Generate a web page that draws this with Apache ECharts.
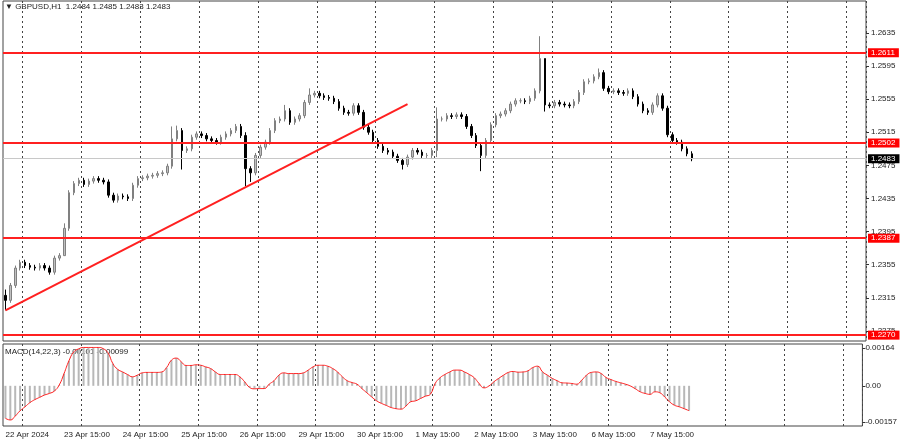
<!DOCTYPE html>
<html><head><meta charset="utf-8">
<script src="https://cdn.jsdelivr.net/npm/echarts@6/dist/echarts.min.js"></script>
<style>html,body{margin:0;padding:0;background:#fff}#c{width:900px;height:441px}</style>
</head><body><div id="c"></div>
<script>
// 2-hour bars
const closes = [1.2312,1.2330,1.2351,1.2358,1.2354,1.2352,1.2351,1.2354,1.2351,1.2346,1.2363,1.2366,1.2399,1.2442,1.2453,1.2457,1.2452,1.2456,1.2459,1.2457,
1.2455,1.2439,1.2433,1.2438,1.2437,1.2435,1.2451,1.2459,1.2460,1.2462,1.2463,1.2465,1.2466,1.2474,1.2507,1.2517,1.2493,1.2495,1.2509,1.2513,
1.2511,1.2507,1.2505,1.2503,1.2509,1.2513,1.2517,1.2522,1.2511,1.2471,1.2466,1.2487,1.2497,1.2503,1.2517,1.2529,1.2531,1.2541,1.2527,1.2531,
1.2535,1.2551,1.2560,1.2562,1.2559,1.2557,1.2556,1.2552,1.2544,1.2539,1.2538,1.2547,1.2539,1.2521,1.2515,1.2505,1.2498,1.2493,1.2491,1.2486,
1.2481,1.2476,1.2485,1.2493,1.2491,1.2487,1.2487,1.2493,1.2531,1.2531,1.2535,1.2534,1.2536,1.2534,1.2522,1.2511,1.2499,1.2487,1.2505,1.2524,
1.2535,1.2537,1.2541,1.2549,1.2553,1.2553,1.2552,1.2556,1.2565,1.2604,1.2548,1.2547,1.2551,1.2549,1.2548,1.2547,1.2552,1.2563,1.2576,1.2577,
1.2582,1.2587,1.2568,1.2564,1.2565,1.2563,1.2562,1.2565,1.2558,1.2549,1.2541,1.2539,1.2548,1.2559,1.2544,1.2512,1.2505,1.2503,1.2495,1.2489,1.2483];
const firstOpen = 1.2318;
const spikeHighs = {0:1.2325,12:1.2405,34:1.2522,35:1.2523,49:1.2515,57:1.2548,62:1.2568,88:1.2545,109:1.2631,110:1.2600,121:1.2592,133:1.2562};
const spikeLows = {0:1.2300,12:1.2370,36:1.2470,49:1.2450,50:1.2455,81:1.2470,88:1.2485,97:1.2468,110:1.2540};
const macd = [-0.00141,-0.00148,-0.00131,-0.00108,-0.00091,-0.00073,-0.00060,-0.00050,-0.00040,-0.00033,-0.00023,0.00003,0.00053,0.00108,0.00147,0.00160,0.00166,0.00166,0.00166,0.00166,
0.00161,0.00143,0.00096,0.00071,0.00060,0.00049,0.00039,0.00046,0.00056,0.00058,0.00058,0.00058,0.00060,0.00079,0.00111,0.00120,0.00104,0.00088,0.00088,0.00091,
0.00089,0.00082,0.00075,0.00060,0.00049,0.00049,0.00049,0.00049,0.00039,0.00017,-0.00007,-0.00013,-0.00012,-0.00012,0.00007,0.00022,0.00046,0.00056,0.00053,0.00053,
0.00053,0.00056,0.00068,0.00082,0.00089,0.00089,0.00085,0.00075,0.00060,0.00039,0.00022,0.00014,0.00007,-0.00012,-0.00030,-0.00048,-0.00065,-0.00076,-0.00085,-0.00094,
-0.00099,-0.00101,-0.00088,-0.00069,-0.00065,-0.00055,-0.00045,-0.00037,0.00010,0.00035,0.00049,0.00060,0.00068,0.00068,0.00060,0.00049,0.00035,0.00010,-0.00009,-0.00001,
0.00017,0.00032,0.00046,0.00058,0.00062,0.00059,0.00060,0.00065,0.00079,0.00085,0.00060,0.00046,0.00032,0.00022,0.00013,0.00012,0.00010,0.00007,0.00024,0.00046,
0.00058,0.00060,0.00053,0.00036,0.00027,0.00019,0.00013,0.00007,-0.00001,-0.00013,-0.00026,-0.00033,-0.00037,-0.00026,-0.00030,-0.00048,-0.00069,-0.00084,-0.00091,-0.00099,-0.00108];
const timeLabels = {0:'22 Apr 2024',12:'23 Apr 15:00',24:'24 Apr 15:00',36:'25 Apr 15:00',48:'26 Apr 15:00',60:'29 Apr 15:00',72:'30 Apr 15:00',84:'1 May 15:00',96:'2 May 15:00',108:'3 May 15:00',120:'6 May 15:00',132:'7 May 15:00'};
const priceTicks = [1.2275,1.2315,1.2355,1.2395,1.2435,1.2475,1.2515,1.2555,1.2595,1.2635];
const macdTicks = [0.00164,0.00,-0.00157];
const redLevels = [1.2611,1.2502,1.2387,1.2270];
const lastPrice = 1.2483;
const trend = [[0,1.2300],[82,1.2549]];
const totalSlots = 176;

const cats = []; for (let i=0;i<totalSlots;i++) cats.push(timeLabels[i]||('b'+i));
const ohlc = closes.map((c,i)=>{
  const o = i===0?firstOpen:closes[i-1];
  const h = spikeHighs[i]!==undefined?Math.max(spikeHighs[i],o,c):Math.max(o,c)+0.0003;
  const l = spikeLows[i]!==undefined?Math.min(spikeLows[i],o,c):Math.min(o,c)-0.0003;
  return [o,c,l,h];
});
const F = '"Liberation Sans", Arial, sans-serif';
const FS = 8;
const lvlLabel = (v,bg)=>({show:true,position:'end',formatter:v.toFixed(4),color:'#fff',backgroundColor:bg,fontSize:FS,fontFamily:F,padding:[1,4,0,3],distance:2});
const markData = [{yAxis:lastPrice,lineStyle:{color:'#c8c8c8',width:1,type:'solid'},label:lvlLabel(lastPrice,'#000')}];
redLevels.forEach(v=>markData.push({yAxis:v,lineStyle:{color:'#ff2020',width:2,type:'solid'},label:lvlLabel(v,'#ff0000')}));
markData.push([{coord:trend[0],lineStyle:{color:'#ff2020',width:2,type:'solid'},label:{show:false}},{coord:trend[1]}]);

const split = {show:true,interval:(i)=>i%12===4,lineStyle:{color:'#444',type:[2,3],width:1}};
const chart = echarts.init(document.getElementById('c'));
chart.setOption({
  animation:false,
  grid:[{left:3,right:34,top:1,height:340,show:true,borderColor:'#444',borderWidth:1},
        {left:3,right:34,top:344,height:82,show:true,borderColor:'#444',borderWidth:1}],
  xAxis:[{type:'category',gridIndex:0,data:cats,boundaryGap:true,axisLine:{show:false},axisTick:{show:false},axisLabel:{show:false},splitLine:split},
         {type:'category',gridIndex:1,data:cats,boundaryGap:true,axisLine:{show:false},axisTick:{show:false},splitLine:split,
          axisLabel:{interval:0,formatter:(v)=>v.charAt(0)==='b'?'':v,align:'left',color:'#222',fontSize:FS,fontFamily:F,margin:5}}],
  yAxis:[{type:'value',gridIndex:0,position:'right',min:1.22629,max:1.26735,splitLine:{show:false},
          axisLine:{show:false},axisTick:{show:true,inside:false,length:3,customValues:priceTicks,lineStyle:{color:'#333'}},
          axisLabel:{customValues:priceTicks,formatter:(v)=>v.toFixed(4),color:'#222',fontSize:FS,fontFamily:F,margin:5}},
         {type:'value',gridIndex:1,position:'right',min:-0.00174,max:0.00181,splitLine:{show:false},
          axisLine:{show:false},axisTick:{show:true,length:3,customValues:macdTicks,lineStyle:{color:'#333'}},
          axisLabel:{customValues:macdTicks,formatter:(v)=>v===0?'0.00':v.toFixed(5),color:'#222',fontSize:FS,fontFamily:F,margin:3}}],
  series:[
    {type:'candlestick',xAxisIndex:0,yAxisIndex:0,data:ohlc,barWidth:2,
     itemStyle:{color:'#c0c0c0',borderColor:'#808080',color0:'#000',borderColor0:'#000',borderWidth:1}},
    {type:'line',xAxisIndex:0,yAxisIndex:0,data:[],symbol:'none',
     markLine:{symbol:'none',silent:true,precision:5,data:markData}},
    {type:'bar',xAxisIndex:1,yAxisIndex:1,data:macd,barWidth:2,itemStyle:{color:'#b8b8b8'}},
    {type:'line',xAxisIndex:1,yAxisIndex:1,data:macd,smooth:true,symbol:'none',lineStyle:{color:'#ff2020',width:1}}
  ],
  graphic:[
    {type:'text',left:5,top:3,style:{text:'▼ GBPUSD,H1  1.2484 1.2485 1.2483 1.2483',fontSize:FS,fontFamily:F,fill:'#222'}},
    {type:'text',left:5,top:348,style:{text:'MACD(14,22,3) -0.00101 -0.00099',fontSize:FS,fontFamily:F,fill:'#222'}}
  ]
});
</script></body></html>
